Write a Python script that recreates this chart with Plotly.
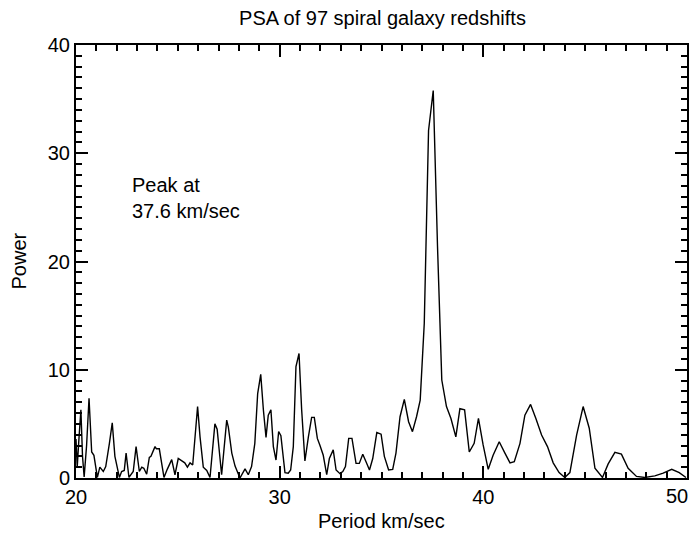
import plotly.graph_objects as go

# Period (km/sec) and power values
period = [
    20.00, 20.06, 20.13, 20.24, 20.32, 20.40, 20.52, 20.64, 20.77, 20.88,
    21.05, 21.17, 21.34, 21.46, 21.64, 21.78, 21.91, 22.13, 22.24, 22.37,
    22.46, 22.60, 22.81, 22.95, 23.11, 23.23, 23.33, 23.47, 23.60, 23.68,
    23.88, 23.95, 24.09, 24.20, 24.32, 24.48, 24.70, 24.86, 25.02, 25.18,
    25.34, 25.47, 25.60, 25.73, 25.84, 25.97, 26.09, 26.25, 26.42, 26.58,
    26.82, 26.93, 27.15, 27.40, 27.48, 27.65, 27.81, 28.05, 28.30, 28.46,
    28.62, 28.78, 28.92, 29.07, 29.20, 29.33, 29.44, 29.57, 29.69, 29.82,
    29.95, 30.06, 30.26, 30.42, 30.54, 30.67, 30.80, 30.95, 31.08, 31.24,
    31.41, 31.57, 31.70, 31.85, 31.98, 32.14, 32.31, 32.44, 32.63, 32.77,
    32.96, 33.10, 33.23, 33.39, 33.55, 33.75, 33.91, 34.08, 34.24, 34.41,
    34.57, 34.77, 34.98, 35.14, 35.35, 35.55, 35.71, 35.91, 36.12, 36.33,
    36.52, 36.72, 36.90, 37.10, 37.31, 37.54, 37.75, 37.96, 38.19, 38.41,
    38.65, 38.85, 39.08, 39.31, 39.55, 39.76, 39.99, 40.24, 40.48, 40.78,
    41.06, 41.31, 41.52, 41.80, 42.04, 42.32, 42.58, 42.86, 43.15, 43.43,
    43.72, 44.00, 44.25, 44.58, 44.90, 45.20, 45.48, 45.85, 46.13, 46.46,
    46.78, 47.11, 47.52, 47.93, 48.42, 48.83, 49.25, 49.62, 49.95,
]
power = [
    3.6, 1.0, 3.2, 6.3, 2.0, 0.1, 3.0, 7.36, 2.4, 2.1,
    0.05, 1.0, 0.6, 1.05, 3.2, 5.1, 2.0, 0.05, 0.6, 0.7,
    2.3, 0.05, 0.6, 2.9, 0.6, 1.0, 0.9, 0.35, 1.9, 2.0,
    2.9, 2.7, 2.7, 1.6, 0.05, 0.8, 1.7, 0.3, 1.8, 1.6,
    1.4, 1.0, 1.4, 1.2, 3.97, 6.6, 3.8, 1.0, 0.7, 0.05,
    5.0, 4.5, 0.3, 5.35, 4.7, 2.3, 1.1, 0.0, 0.85, 0.3,
    1.05, 3.2, 7.8, 9.57, 6.3, 3.75, 5.8, 6.3, 2.9, 1.66,
    4.3, 3.9, 0.5, 0.45, 0.74, 2.9, 10.3, 11.5, 6.3, 1.57,
    3.8, 5.6, 5.6, 3.66, 3.0, 2.1, 0.3, 1.8, 2.6, 0.74,
    0.4, 0.6, 1.05, 3.66, 3.66, 1.35, 1.35, 2.2, 1.5, 0.74,
    1.8, 4.2, 4.05, 2.0, 0.74, 0.8, 2.3, 5.66, 7.26, 5.2,
    4.28, 5.66, 7.2, 14.3, 32.1, 35.8, 21.4, 9.05, 6.6, 5.5,
    3.8, 6.4, 6.3, 2.4, 3.2, 5.5, 3.05, 0.8, 2.1, 3.35,
    2.3, 1.4, 1.5, 3.2, 5.8, 6.8, 5.5, 3.97, 2.9, 1.4,
    0.5, 0.05, 0.5, 3.97, 6.6, 4.6, 0.9, 0.05, 1.3, 2.37,
    2.2, 0.9, 0.15, 0.05, 0.2, 0.45, 0.8, 0.5, 0.05,
]

x_ticks = [20, 30, 40, 50]
y_ticks = [0, 10, 20, 30, 40]

title_text = "PSA of 97 spiral galaxy redshifts"
x_title = "Period km/sec"
y_title = "Power"
note_text = "Peak at<br>37.6 km/sec"

FONT = "Liberation Sans, Arial, Helvetica, sans-serif"
FS = 20

# The page body has an 8px margin, so the figure is drawn 8px in from the corner.
OFF = 8
W, H = 698 - OFF, 535 - OFF
L, T = 76 - OFF, 45 - OFF
R = W - (687 - OFF)
B = H - (478 - OFF)
PW, PH = W - L - R, H - T - B

fig = go.Figure()
fig.add_trace(go.Scatter(
    x=period, y=power, mode="lines",
    line=dict(color="black", width=1.4),
    showlegend=False, hoverinfo="skip",
))

axis_common = dict(
    showgrid=False, zeroline=False,
    showline=True, linecolor="black", linewidth=2, mirror="ticks",
    ticks="inside", ticklen=12, tickwidth=1.5, tickcolor="black",
    tickfont=dict(family=FONT, size=FS, color="black"),
)

# the last x label sits at the window edge; it is drawn as an annotation nudged inward
x_labels = [str(v) for v in x_ticks[:-1]] + [""]

fig.update_xaxes(
    range=[20, 50], tickvals=x_ticks, ticktext=x_labels,
    minor=dict(ticks="inside", dtick=1, tick0=20, ticklen=6, tickwidth=1.5, tickcolor="black"),
    **axis_common,
)
fig.update_yaxes(
    range=[0, 40], tickvals=y_ticks, ticktext=[str(v) for v in y_ticks],
    minor=dict(ticks="inside", dtick=1, tick0=0, ticklen=6, tickwidth=1.5, tickcolor="black"),
    **axis_common,
)

fig.update_layout(
    width=W, height=H,
    margin=dict(l=L, r=R, t=T, b=B, autoexpand=False),
    paper_bgcolor="white", plot_bgcolor="white",
    font=dict(family=FONT, color="black"),
    title=dict(text=title_text, x=((230 + 535) / 2 - OFF) / W, xanchor="center",
               y=1 - (18 - OFF) / H, yanchor="middle", yref="container",
               font=dict(family=FONT, size=FS, color="black")),
    annotations=[
        dict(text=str(x_ticks[-1]), xref="x", yref="paper", x=x_ticks[-1], y=-18 / PH,
             xanchor="right", yanchor="middle", xshift=3, showarrow=False,
             font=dict(family=FONT, size=FS, color="black")),
        dict(text=x_title, xref="paper", yref="paper", x=0.5, y=-43 / PH,
             xanchor="center", yanchor="middle", showarrow=False,
             font=dict(family=FONT, size=FS, color="black")),
        dict(text=y_title, xref="paper", yref="paper", x=-(76 - 18) / PW, y=0.5,
             xanchor="center", yanchor="middle", textangle=-90, showarrow=False,
             font=dict(family=FONT, size=FS, color="black")),
        dict(text=note_text, xref="x", yref="y", x=22.65, y=25.85,
             xanchor="left", yanchor="middle", align="left", showarrow=False,
             font=dict(family=FONT, size=FS, color="black")),
    ],
)

fig.write_html("out.html")
